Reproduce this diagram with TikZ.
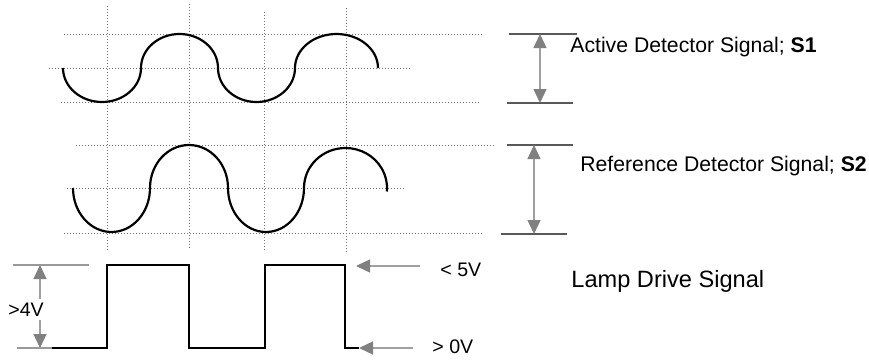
\documentclass[tikz,border=0pt]{standalone}
\usepackage{fontspec}
\setmainfont{Liberation Sans}
\usetikzlibrary{positioning, arrows.meta}
\definecolor{tipgray}{RGB}{128,128,128}
\definecolor{shaftgray}{RGB}{160,160,160}
\tikzstyle{gridline}=[draw=black!55, densely dotted, line width=0.5pt]
\tikzstyle{trace}=[draw=black, line width=1.1pt]
\tikzstyle{bar}=[draw=black!65, line width=0.6pt]
\tikzstyle{dimarrow}=[draw=shaftgray, line width=0.7pt, {Triangle[length=7pt,width=6.5pt,color=tipgray]}-{Triangle[length=7pt,width=6.5pt,color=tipgray]}]
\tikzstyle{pointer}=[draw=shaftgray, line width=0.7pt, -{Triangle[length=7pt,width=6.5pt,color=tipgray]}]
\tikzstyle{every node}=[font=\fontsize{10.6}{13}\selectfont, inner sep=0pt]
\tikzstyle{volt}=[font=\fontsize{9.8}{12}\selectfont]

\begin{document}
\begin{tikzpicture}[x=0.5pt,y=0.5pt]
  \useasboundingbox (0,0) rectangle (869,360);
  % grid
  \foreach \x/\t/\b in {107/354/110, 189/356/110, 264/348/110, 346/352/107}
    \draw[gridline] (\x,\t) -- (\x,\b);
  \foreach \y/\l/\r in {326/64/482, 292/49/412, 258/61/480, 215/76/495, 172/67/404, 127/64/482}
    \draw[gridline] (\l,\y) -- (\r,\y);
  % detector signals
  \draw[trace] (63,292) arc[start angle=180, end angle=360, x radius=39, y radius=34]
    arc[start angle=180, end angle=0, x radius=38.5, y radius=34]
    arc[start angle=180, end angle=360, x radius=38.5, y radius=34]
    arc[start angle=180, end angle=0, x radius=41.5, y radius=34];
  \draw[trace] (73,172) arc[start angle=180, end angle=360, x radius=38.5, y radius=44]
    arc[start angle=180, end angle=0, x radius=39, y radius=43]
    arc[start angle=180, end angle=360, x radius=38, y radius=44]
    arc[start angle=180, end angle=-5, x radius=41.5, y radius=40];
  % lamp drive
  \draw[trace, line width=1pt] (52,12) -- (107,12) -- (107,95) -- (189,95) -- (189,12)
    -- (265,12) -- (265,95) -- (345,95) -- (345,12) coordinate (fall) -- (359,12) coordinate (low);
  \coordinate (high) at (356,94);
  % amplitude marks
  \draw[bar] (509,326) -- (577,326);
  \draw[bar] (507,257) -- (573,257);
  \coordinate (s1hi) at (540,326);
  \coordinate (s1lo) at (540,257);
  \draw[dimarrow] (s1hi) -- (s1lo);
  \draw[bar] (507,215) -- (573,215);
  \draw[bar] (501,126) -- (567,126);
  \coordinate (s2hi) at (534,215);
  \coordinate (s2lo) at (534,126);
  \draw[dimarrow] (s2hi) -- (s2lo);
  \draw[draw=black!40, line width=0.6pt] (13,95) -- (89,95);
  \draw[draw=black!40, line width=0.6pt] (17,12) -- (52,12);
  \coordinate (lamphi) at (40,95);
  \coordinate (lamplo) at (40,12);
  \draw[dimarrow] (lamphi) -- (lamplo);
  % labels
  \node[anchor=base west] (s1) at (570,307) {Active Detector Signal; \textbf{S1}};
  \node[anchor=base west] (s2) at (580,189) {Reference Detector Signal; \textbf{S2}};
  \node[anchor=base west, font=\fontsize{11.8}{14}\selectfont] (lamp) at (571,73) {Lamp Drive Signal};
  \node[volt, anchor=base west] (vmax) at (440,84) {< 5V};
  \node[volt, anchor=base west] (vmin) at (432,7) {> 0V};
  \node[volt, anchor=base west, fill=white, inner ysep=2pt] (vspan) at (8,44) {>4V};
  \draw[pointer] ([xshift=-10pt]vmax.west |- high) -- (high);
  \draw[pointer] ([xshift=-9.5pt]vmin.west |- low) -- (low);
\end{tikzpicture}
\end{document}
